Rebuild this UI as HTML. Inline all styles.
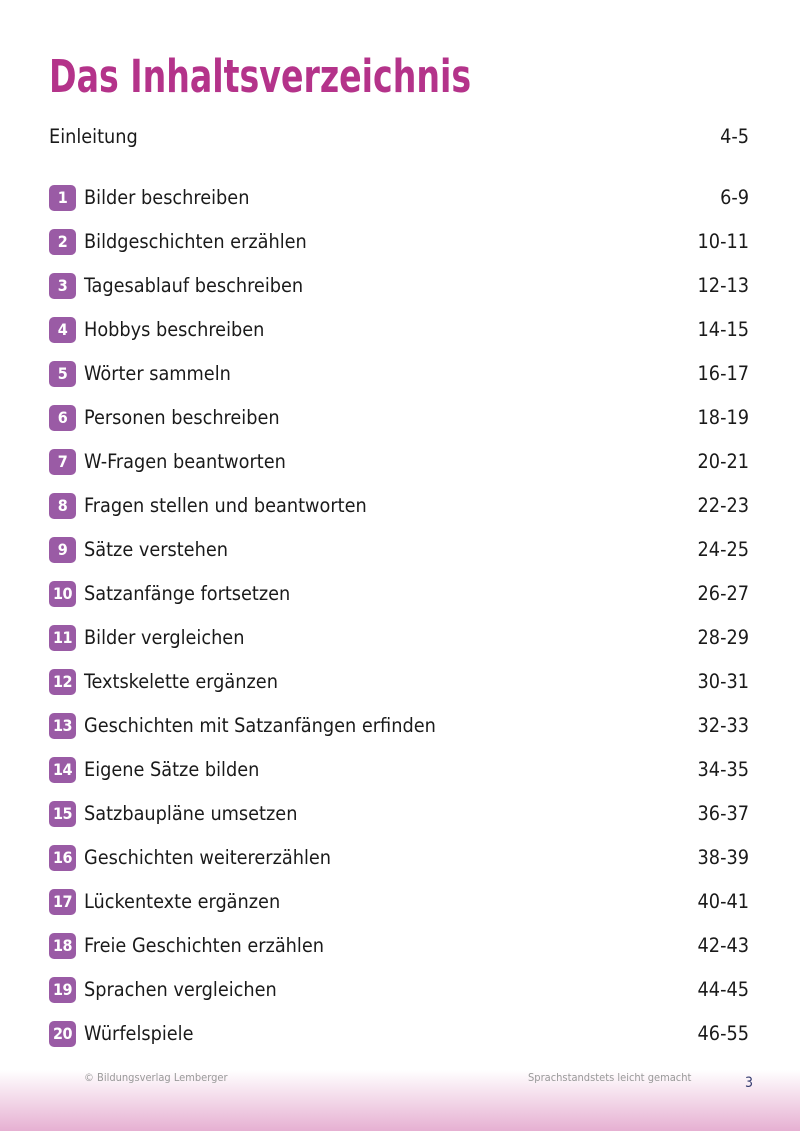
<!DOCTYPE html>
<html><head><meta charset="utf-8"><style>
body{margin:0;width:800px;height:1131px;position:relative;background:#fff;font-family:"DejaVu Sans Condensed","Liberation Sans",sans-serif;overflow:hidden}
.t{position:absolute;left:49px;top:50px;font-size:45px;font-weight:bold;color:#b4338a;transform:scaleX(0.82);transform-origin:left top;white-space:nowrap}
.r{position:absolute;left:49px;width:700px;height:26px;font-size:19.7px;color:#1a1a1a;line-height:26px}
.b{position:absolute;left:0;top:0;width:27px;height:26px;border-radius:5px;background:#9a5ba5;color:#fff;font-weight:bold;font-size:16px;text-align:center;line-height:26px;letter-spacing:-0.5px}
.l{position:absolute;left:35px;white-space:nowrap}
.p{position:absolute;right:0}
.g{position:absolute;left:0;top:1070px;width:800px;height:61px;background:linear-gradient(#fff,#e6b0d2)}
.f{position:absolute;top:1071px;font-size:11px;color:#999}
</style></head><body>
<div class="g"></div>
<div class="t">Das Inhaltsverzeichnis</div>
<div class="r" style="top:124px"><span style="position:absolute;left:0">Einleitung</span><span class="p">4-5</span></div>
<div id="rows"></div>
<div class="f" style="left:84px">© Bildungsverlag Lemberger</div>
<div class="f" style="left:528px">Sprachstandstets leicht gemacht</div>
<div style="position:absolute;left:745px;top:1075px;font-size:14px;color:#333a6e">3</div>
<script>
var d=[["Bilder beschreiben","6-9"],["Bildgeschichten erzählen","10-11"],["Tagesablauf beschreiben","12-13"],["Hobbys beschreiben","14-15"],["Wörter sammeln","16-17"],["Personen beschreiben","18-19"],["W-Fragen beantworten","20-21"],["Fragen stellen und beantworten","22-23"],["Sätze verstehen","24-25"],["Satzanfänge fortsetzen","26-27"],["Bilder vergleichen","28-29"],["Textskelette ergänzen","30-31"],["Geschichten mit Satzanfängen erfinden","32-33"],["Eigene Sätze bilden","34-35"],["Satzbaupläne umsetzen","36-37"],["Geschichten weitererzählen","38-39"],["Lückentexte ergänzen","40-41"],["Freie Geschichten erzählen","42-43"],["Sprachen vergleichen","44-45"],["Würfelspiele","46-55"]];
var h="";d.forEach(function(x,i){h+='<div class="r" style="top:'+(185+i*44)+'px"><span class="b">'+(i+1)+'</span><span class="l">'+x[0]+'</span><span class="p">'+x[1]+'</span></div>';});
document.getElementById("rows").innerHTML=h;
</script>
</body></html>
